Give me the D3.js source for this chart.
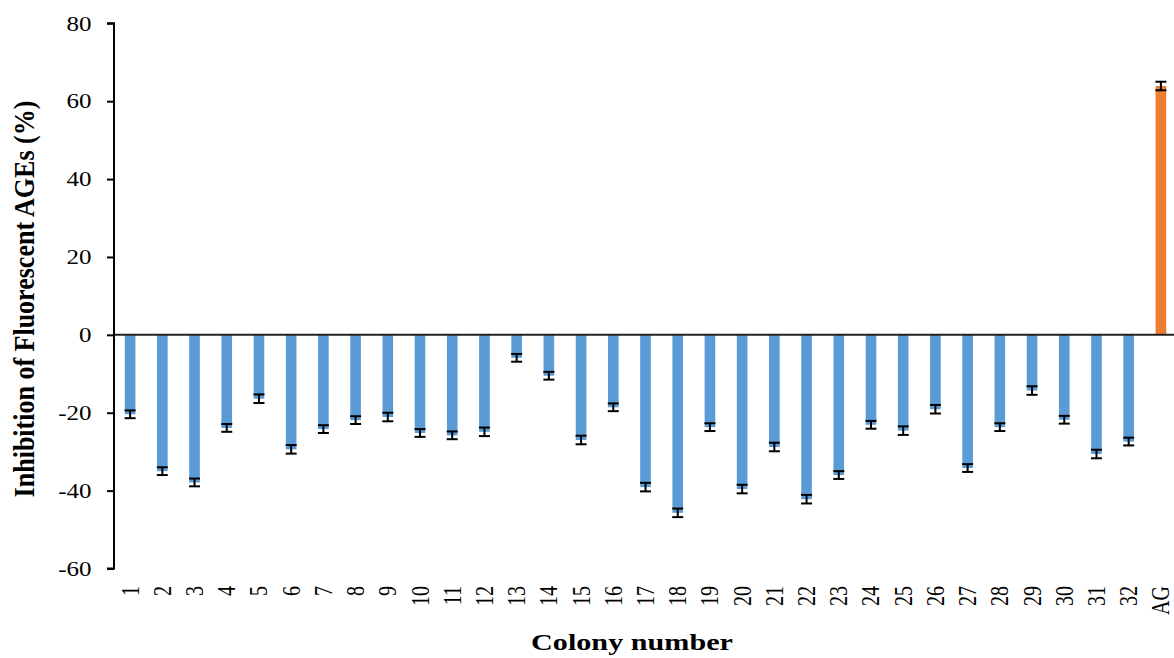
<!DOCTYPE html>
<html>
<head>
<meta charset="utf-8">
<script src="https://cdn.jsdelivr.net/npm/d3@7"></script>
<style>
  html, body { margin: 0; padding: 0; background: #fff; }
  svg { display: block; }
</style>
</head>
<body>
<svg id="chart" width="1174" height="658"></svg>
<script>
const categories = ["1","2","3","4","5","6","7","8","9","10","11","12","13","14","15","16","17","18","19","20","21","22","23","24","25","26","27","28","29","30","31","32","AG"];
const values = [-20.4,-35.0,-37.9,-23.9,-16.4,-29.4,-24.2,-21.9,-21.1,-25.2,-25.8,-24.9,-5.9,-10.5,-27.0,-18.6,-39.1,-45.7,-23.7,-39.6,-28.8,-42.2,-36.0,-23.1,-24.6,-19.1,-34.2,-23.7,-14.3,-21.8,-30.6,-27.4,63.9];
const errors = [1,1,1,1,1.1,1.1,1,1,1.1,1,1,1.1,1,1,1.1,1,1.1,1.1,1,1.1,1.1,1.1,1,1,1.1,1.1,1,1,1.1,1,1.1,1,1.1];
const yTicks = [-60,-40,-20,0,20,40,60,80];
const yDomain = [-60, 80];
const colorBlue = "#5B9BD5";
const colorOrange = "#ED7D31";

(function () {
const svg = d3.select("#chart");
const mLeft = 114, mTop = 23.3, mBottom = 568.5, mRight = 1177;

const x = d3.scaleBand().domain(categories).range([mLeft, mRight]).paddingInner(0.67).paddingOuter(0.335);
const y = d3.scaleLinear().domain(yDomain).range([mBottom, mTop]);

const font = "'Liberation Serif', 'Times New Roman', serif";
const sx = 1.25; // horizontal glyph stretch seen in the reference

// bars
svg.append("g").selectAll("rect").data(categories).join("rect")
  .attr("x", d => x(d))
  .attr("width", x.bandwidth())
  .attr("y", (d, i) => y(Math.max(0, values[i])))
  .attr("height", (d, i) => Math.abs(y(values[i]) - y(0)))
  .attr("fill", d => d === "AG" ? colorOrange : colorBlue);

// error bars
const eb = svg.append("g").attr("stroke", "#000").attr("stroke-width", 2);
categories.forEach((c, i) => {
  const cx = x(c) + x.bandwidth() / 2;
  const v = values[i], e = errors[i];
  const cw = 5.5;
  eb.append("line").attr("x1", cx).attr("x2", cx).attr("y1", y(v + e)).attr("y2", y(v - e));
  eb.append("line").attr("x1", cx - cw).attr("x2", cx + cw).attr("y1", y(v + e)).attr("y2", y(v + e));
  eb.append("line").attr("x1", cx - cw).attr("x2", cx + cw).attr("y1", y(v - e)).attr("y2", y(v - e));
});

// zero line
svg.append("line").attr("x1", mLeft).attr("x2", 1174).attr("y1", y(0)).attr("y2", y(0))
  .attr("stroke", "#222").attr("stroke-width", 2);

// y axis
const yAxis = d3.axisLeft(y).tickValues(yTicks).tickSize(7).tickPadding(16).tickFormat(d => String(d));
const ya = svg.append("g").attr("transform", `translate(${mLeft},0)`).call(yAxis);
ya.select(".domain").attr("stroke", "#000").attr("stroke-width", 2).attr("d", `M-7,${y(80)}H0V${y(-60)}H-7`);
ya.selectAll(".tick line").attr("stroke", "#000").attr("stroke-width", 2);
ya.selectAll(".tick text")
  .attr("font-family", font).attr("font-size", 20).attr("fill", "#000")
  .attr("x", -22.5 / sx).attr("dy", "0.34em")
  .attr("transform", `scale(${sx},1)`);

// x labels
const xl = svg.append("g");
xl.selectAll("text").data(categories).join("text")
  .attr("transform", d => `translate(${x(d) + x.bandwidth() / 2 + 8.5},586) scale(${sx},1) rotate(-90)`)
  .attr("text-anchor", "end")
  .attr("font-family", font).attr("font-size", 20).attr("fill", "#000")
  .text(d => d);

// titles
svg.append("text")
  .attr("transform", `translate(34,299) scale(1.1,1) rotate(-90)`)
  .attr("text-anchor", "middle")
  .attr("font-family", font).attr("font-size", 26).attr("font-weight", "bold")
  .text("Inhibition of Fluorescent AGEs (%)");

svg.append("text")
  .attr("transform", `translate(632,650) scale(1.34,1)`)
  .attr("text-anchor", "middle")
  .attr("font-family", font).attr("font-size", 22.5).attr("font-weight", "bold")
  .text("Colony number");
})();
</script>
</body>
</html>
